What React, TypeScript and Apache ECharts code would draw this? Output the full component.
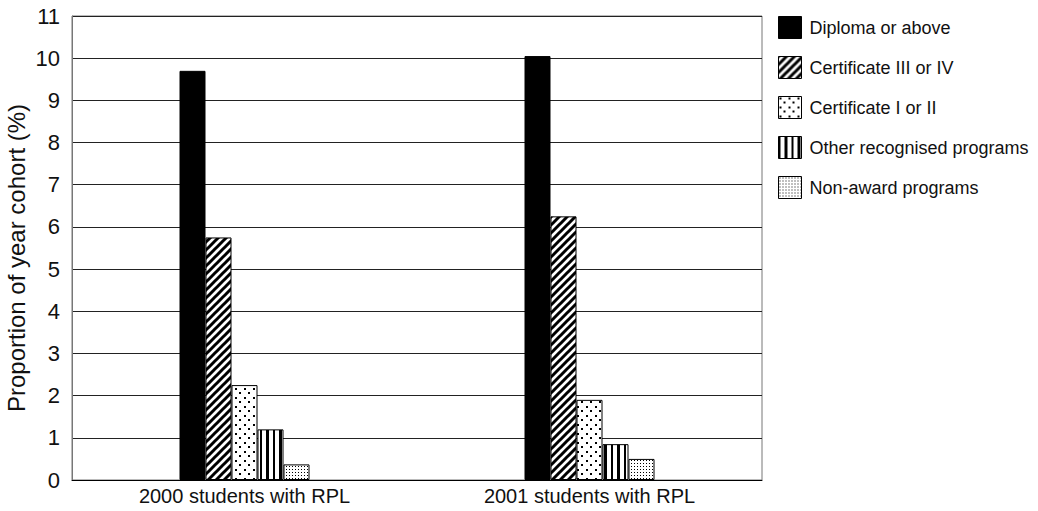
import React, { useEffect, useRef } from "react";
import * as echarts from "echarts";

const categories = ["2000 students with RPL", "2001 students with RPL"];
const seriesNames = [
  "Diploma or above",
  "Certificate III or IV",
  "Certificate I or II",
  "Other recognised programs",
  "Non-award programs",
];
const diploma = [9.7, 10.05];
const cert34 = [5.75, 6.25];
const cert12 = [2.25, 1.9];
const otherRec = [1.2, 0.85];
const nonAward = [0.37, 0.5];
const yTicks = [0, 1, 2, 3, 4, 5, 6, 7, 8, 9, 10, 11];

function makeCanvas(w: number, h: number, draw: (ctx: CanvasRenderingContext2D) => void) {
  const c = document.createElement("canvas");
  c.width = w;
  c.height = h;
  const ctx = c.getContext("2d")!;
  ctx.fillStyle = "#ffffff";
  ctx.fillRect(0, 0, w, h);
  ctx.fillStyle = "#000000";
  ctx.strokeStyle = "#000000";
  draw(ctx);
  return c;
}

function patterns() {
  const diag = makeCanvas(8, 8, (ctx) => {
    ctx.lineWidth = 3;
    ctx.beginPath();
    ctx.moveTo(-1, 9);
    ctx.lineTo(9, -1);
    ctx.moveTo(-5, 5);
    ctx.lineTo(5, -5);
    ctx.moveTo(3, 13);
    ctx.lineTo(13, 3);
    ctx.stroke();
  });
  const dots = makeCanvas(9, 9, (ctx) => {
    ctx.fillRect(1, 1, 2, 2);
    ctx.fillRect(5, 5, 2, 2);
  });
  const vert = makeCanvas(13, 4, (ctx) => {
    ctx.fillRect(0, 0, 2, 4);
    ctx.fillRect(6, 0, 3, 4);
  });
  const fine = makeCanvas(3, 3, (ctx) => {
    ctx.fillRect(1, 1, 1, 1);
  });
  return [
    "#000000",
    { image: diag, repeat: "repeat" },
    { image: dots, repeat: "repeat" },
    { image: vert, repeat: "repeat" },
    { image: fine, repeat: "repeat" },
  ];
}

export default function App() {
  const ref = useRef<HTMLDivElement>(null);
  useEffect(() => {
    if (!ref.current) return;
    const chart = echarts.init(ref.current, undefined, { renderer: "svg" });
    const fills = patterns();
    const dataSets = [diploma, cert34, cert12, otherRec, nonAward];
    const font = "Liberation Sans, Arial, sans-serif";
    chart.setOption({
      animation: false,
      backgroundColor: "#ffffff",
      textStyle: { fontFamily: font },
      grid: {
        left: 72,
        right: 276,
        top: 16,
        bottom: 31,
        show: true,
        borderColor: "#777",
        borderWidth: 1,
        containLabel: false,
        outerBoundsMode: "none",
      },
      legend: {
        orient: "vertical",
        left: 778,
        top: 16,
        padding: 0,
        itemWidth: 23,
        itemHeight: 22,
        itemGap: 17,
        icon: "rect",
        textStyle: { fontSize: 18, color: "#111", fontFamily: font, padding: [0, 0, 0, 3], lineHeight: 20 },
        data: seriesNames.map((n, i) => ({
          name: n,
          itemStyle: { color: fills[i], borderColor: "#000", borderWidth: 1 },
        })),
      },
      xAxis: {
        type: "category",
        data: categories,
        axisLine: { lineStyle: { color: "#000", width: 1 } },
        axisTick: { show: false },
        axisLabel: { fontSize: 20, color: "#111", margin: 6, fontFamily: font },
      },
      yAxis: {
        type: "value",
        min: 0,
        max: 11,
        interval: 1,
        name: "Proportion of year cohort (%)",
        nameLocation: "middle",
        nameGap: 44,
        nameMoveOverlap: false,
        nameTextStyle: { fontSize: 24, color: "#111", fontFamily: font, padding: [0, 20, 0, 0] },
        axisLine: { show: true, lineStyle: { color: "#777" } },
        axisTick: { show: false },
        axisLabel: {
          fontSize: 22,
          color: "#111",
          margin: 12,
          fontFamily: font,
          formatter: (v: number) => (yTicks.includes(v) ? String(v) : ""),
        },
        splitLine: { show: true, lineStyle: { color: "#222", width: 1 } },
      },
      series: seriesNames.map((n, i) => ({
        name: n,
        type: "bar",
        data: dataSets[i],
        barWidth: 26,
        barGap: "0%",
        itemStyle: { color: fills[i], borderColor: "#000", borderWidth: 1 },
      })),
    });
    return () => chart.dispose();
  }, []);
  return <div ref={ref} style={{ width: 1038, height: 511, position: "absolute", left: 0, top: 0 }} />;
}
